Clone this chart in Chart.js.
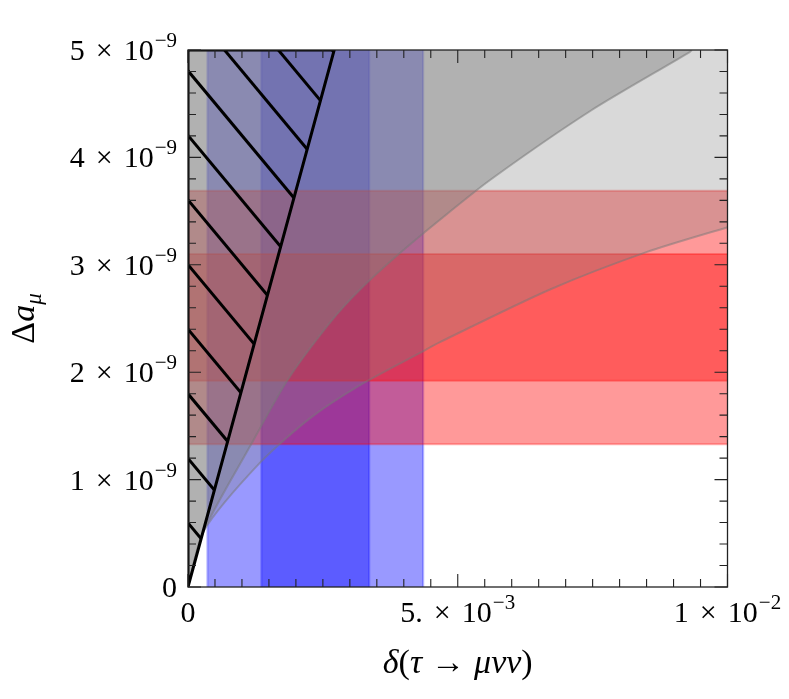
<!DOCTYPE html>
<html>
<head>
<meta charset="utf-8">
<script src="https://cdn.jsdelivr.net/npm/chart.js@4.4.1/dist/chart.umd.min.js"></script>
<style>
  html, body { margin: 0; background: #fff; }
  canvas { display: block; }
</style>
</head>
<body>
<canvas id="chart" width="789" height="699"></canvas>
<script>
// Δa_μ vs δ(τ→μνν): bandes 1σ/2σ, régions grises et borne hachurée.
const X_MIN = 0, X_MAX = 0.01, Y_MIN = 0, Y_MAX = 5e-9;

// bandes verticales (δ) et horizontales (Δa_μ) : [bas, haut], 2σ puis 1σ
const DELTA_BANDS = [[0.00036, 0.00436], [0.00136, 0.00336]];
const AMU_BANDS = [[1.33e-9, 3.69e-9], [1.92e-9, 3.10e-9]];

// courbes grises (région au-dessus remplie)
const UPPER_X = [0, 0.00029, 0.00115, 0.00185, 0.00263, 0.00319, 0.00393, 0.00467, 0.00560, 0.00745, 0.00930, 0.00934];
const UPPER_Y = [0, 0.52e-9, 1.31e-9, 1.93e-9, 2.46e-9, 2.77e-9, 3.11e-9, 3.42e-9, 3.79e-9, 4.43e-9, 4.98e-9, 5.0e-9];
const LOWER_X = [0, 0.00029, 0.00134, 0.00226, 0.00319, 0.00430, 0.00467, 0.00671, 0.00851, 0.01];
const LOWER_Y = [0, 0.52e-9, 1.16e-9, 1.57e-9, 1.88e-9, 2.18e-9, 2.28e-9, 2.77e-9, 3.12e-9, 3.35e-9];

// borne linéaire (région hachurée à gauche)
const BOUND_X = [0, 0.00271];
const BOUND_Y = [0, 5e-9];

const X_TICKS = [0, 0.005, 0.01];
const X_LABELS = [['0', ''], ['5.', '−3'], ['1', '−2']];
const Y_TICKS = [0, 1e-9, 2e-9, 3e-9, 4e-9, 5e-9];
const Y_LABELS = [['0', ''], ['1', '−9'], ['2', '−9'], ['3', '−9'], ['4', '−9'], ['5', '−9']];
const X_MINOR = 0.0005, Y_MINOR = 0.2e-9;

const BLUE = 'rgba(0,0,255,0.4)', BLUE_EDGE = 'rgba(0,0,255,0.3)';
const RED = 'rgba(255,0,0,0.4)', RED_EDGE = 'rgba(255,0,0,0.3)';
const SERIF = "'Liberation Serif', 'DejaVu Serif', serif";

const pts = (xs, ys) => xs.map((x, i) => ({ x, y: ys[i] }));
const edge = (data, color) => ({ data, borderColor: color, borderWidth: 2, fill: false, pointRadius: 0, order: 6 });

const datasets = [];
DELTA_BANDS.forEach(([a, b]) => {
  datasets.push({ data: [{ x: a, y: Y_MIN }, { x: b, y: Y_MIN }], fill: 'end', backgroundColor: BLUE, borderWidth: 0, pointRadius: 0, order: 7 });
  [a, b].forEach((v) => datasets.push(edge([{ x: v, y: Y_MIN }, { x: v, y: Y_MAX }], BLUE_EDGE)));
});
AMU_BANDS.forEach(([lo, hi]) => {
  datasets.push({ data: [{ x: X_MIN, y: hi }, { x: X_MAX, y: hi }], fill: { value: lo }, backgroundColor: RED, borderWidth: 0, pointRadius: 0, order: 5 });
  [lo, hi].forEach((v) => datasets.push({ ...edge([{ x: X_MIN, y: v }, { x: X_MAX, y: v }], RED_EDGE), order: 4 }));
});
const curve = { fill: 'end', borderColor: 'rgba(120,120,120,0.5)', borderWidth: 2, pointRadius: 0, tension: 0.25 };
datasets.push({ ...curve, data: pts(LOWER_X, LOWER_Y), backgroundColor: 'rgba(128,128,128,0.3)', order: 3 });
datasets.push({ ...curve, data: pts(UPPER_X, UPPER_Y), backgroundColor: 'rgba(128,128,128,0.45)', order: 2 });
// contour de la région hachurée
datasets.push({
  data: [...pts(BOUND_X, BOUND_Y), { x: X_MIN, y: Y_MAX }, { x: X_MIN, y: Y_MIN }],
  borderColor: '#000', borderWidth: 3, fill: false, pointRadius: 0, tension: 0, order: 1,
});

// texte en morceaux : [texte, police, décalage vertical] ou un nombre = espace
function runs(ctx, parts, x, y, align) {
  let w = 0;
  parts.forEach((p) => { if (typeof p === 'number') w += p; else { ctx.font = p[1]; w += ctx.measureText(p[0]).width; } });
  let cx = align === 'right' ? x - w : align === 'center' ? x - w / 2 : x;
  parts.forEach((p) => {
    if (typeof p === 'number') { cx += p; return; }
    ctx.font = p[1];
    ctx.fillText(p[0], cx, y + (p[2] || 0));
    cx += ctx.measureText(p[0]).width;
  });
}
const MAIN = `30px ${SERIF}`, SUP = `21px ${SERIF}`;
const sci = ([m, e]) => (e ? [[m, MAIN], 11, ['×', MAIN], 11, ['10', MAIN], 1, [e, SUP, -13]] : [[m, MAIN]]);

const hatch = {
  id: 'hatch',
  afterDatasetsDraw(chart) {
    const { ctx, chartArea: a, scales: { x, y } } = chart;
    ctx.save();
    ctx.beginPath();
    ctx.moveTo(x.getPixelForValue(BOUND_X[0]), y.getPixelForValue(BOUND_Y[0]));
    ctx.lineTo(x.getPixelForValue(BOUND_X[1]), y.getPixelForValue(BOUND_Y[1]));
    ctx.lineTo(x.getPixelForValue(X_MIN), y.getPixelForValue(Y_MAX));
    ctx.closePath();
    ctx.clip();
    ctx.strokeStyle = '#000';
    ctx.lineWidth = 3;
    const step = 64.6, slope = 1.2;
    for (let k = -1; k < 12; k++) {
      const y0 = a.bottom - 64 - k * step;
      ctx.beginPath();
      ctx.moveTo(a.left, y0);
      ctx.lineTo(a.left + 400, y0 + slope * 400);
      ctx.stroke();
    }
    ctx.restore();
  },
};

const frame = {
  id: 'frame',
  afterDatasetsDraw(chart) {
    const { ctx, chartArea: a, scales: { x, y } } = chart;
    ctx.save();
    ctx.strokeStyle = '#222';
    ctx.lineWidth = 1.3;
    ctx.strokeRect(a.left, a.top, a.right - a.left, a.bottom - a.top);
    ctx.lineWidth = 1.1;
    ctx.beginPath();
    for (let i = 0; i <= Math.round((X_MAX - X_MIN) / X_MINOR); i++) {
      const v = X_MIN + i * X_MINOR;
      const len = X_TICKS.some((t) => Math.abs(t - v) < X_MINOR / 10) ? 13 : 8;
      const px = x.getPixelForValue(v);
      ctx.moveTo(px, a.bottom); ctx.lineTo(px, a.bottom - len);
      ctx.moveTo(px, a.top); ctx.lineTo(px, a.top + len);
    }
    for (let i = 0; i <= Math.round((Y_MAX - Y_MIN) / Y_MINOR); i++) {
      const v = Y_MIN + i * Y_MINOR;
      const len = Y_TICKS.some((t) => Math.abs(t - v) < Y_MINOR / 10) ? 13 : 8;
      const py = y.getPixelForValue(v);
      ctx.moveTo(a.left, py); ctx.lineTo(a.left + len, py);
      ctx.moveTo(a.right, py); ctx.lineTo(a.right - len, py);
    }
    ctx.stroke();

    ctx.fillStyle = '#000';
    ctx.textBaseline = 'alphabetic';
    X_TICKS.forEach((t, i) => runs(ctx, sci(X_LABELS[i]), x.getPixelForValue(t), 622, 'center'));
    Y_TICKS.forEach((t, i) => runs(ctx, sci(Y_LABELS[i]), 177, y.getPixelForValue(t) + 10, 'right'));

    const IT = `italic 34px ${SERIF}`, UP = `34px ${SERIF}`;
    runs(ctx, [['δ', IT], ['(', UP], ['τ', IT], 9, ['→', UP], 9, ['μνν', IT], [')', UP]], (a.left + a.right) / 2, 673, 'center');

    ctx.translate(34, (a.top + a.bottom) / 2);
    ctx.rotate(-Math.PI / 2);
    runs(ctx, [['Δ', UP], ['a', IT], ['μ', `italic 23px ${SERIF}`, 7]], 0, 0, 'center');
    ctx.restore();
  },
};

new Chart(document.getElementById('chart'), {
  type: 'line',
  data: { datasets },
  options: {
    responsive: false,
    animation: false,
    devicePixelRatio: 1,
    events: [],
    layout: { padding: { left: 188, top: 50, right: 61.5, bottom: 112 } },
    plugins: { legend: { display: false }, tooltip: { enabled: false } },
    scales: {
      x: { type: 'linear', min: X_MIN, max: X_MAX, display: false },
      y: { type: 'linear', min: Y_MIN, max: Y_MAX, display: false },
    },
  },
  plugins: [hatch, frame],
});
</script>
</body>
</html>
